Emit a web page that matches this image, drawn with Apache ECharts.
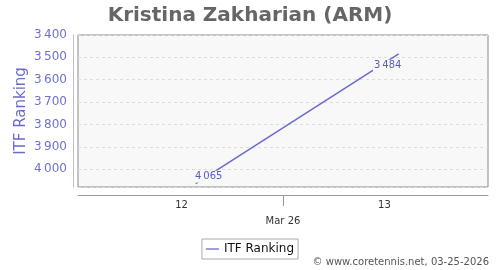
<!DOCTYPE html>
<html>
<head>
<meta charset="utf-8">
<script src="https://cdn.jsdelivr.net/npm/echarts@6/dist/echarts.min.js"></script>
<style>
  html, body { margin: 0; padding: 0; background: #fff; }
  #chart { width: 500px; height: 270px; }
</style>
</head>
<body>
<div id="chart"></div>
<script>
// week numbers (fractional) and ITF ranking
const weeks = [12.07, 13.07];
const rankings = [4065, 3484];
const weekTicks = [12, 13];
const monthTicks = [12.5];
const monthLabels = ['Mar 26'];

const lineColor = '#6a6acd';
const labelColor = '#5a5ac0';
const fmt = (v) => String(v).replace(/\B(?=(\d{3})+(?!\d))/g, '\u2009');

// label placement per point: first one sits above-right, second below-left
const labelOffsets = [[13, 4], [-11, 23]];

const chart = echarts.init(document.getElementById('chart'), null, { renderer: 'canvas' });

const option = {
  animation: false,
  title: {
    text: 'Kristina Zakharian (ARM)',
    left: 'center',
    top: 1,
    textStyle: { fontFamily: 'DejaVu Sans', fontSize: 20, fontWeight: 'bold', color: '#666' },
  },
  legend: {
    bottom: 11,
    left: 'center',
    data: ['ITF Ranking'],
    icon: 'path://M0,0 L20,0 L20,2 L0,2 Z',
    itemWidth: 13,
    itemHeight: 2,
    itemGap: 4,
    padding: [4, 4, 4, 4],
    borderColor: '#aaa',
    borderWidth: 1,
    backgroundColor: '#fff',
    textStyle: { fontFamily: 'DejaVu Sans', fontSize: 12, color: '#111' },
  },
  graphic: [
    {
      type: 'text',
      right: 11,
      bottom: 3,
      style: { text: '\u00a9 www.coretennis.net, 03-25-2026', fontFamily: 'DejaVu Sans', fontSize: 10, fill: '#555' },
    },
  ],
  grid: {
    left: 78, right: 12, top: 35, bottom: 83,
    show: true, backgroundColor: '#f8f8f8', borderColor: '#888', borderWidth: 1,
  },
  xAxis: [
    {
      type: 'value',
      min: 11.49,
      max: 13.51,
      offset: 8,
      axisLine: { show: true, lineStyle: { color: '#999' } },
      axisTick: { show: true, customValues: monthTicks, length: 11, lineStyle: { color: '#999' } },
      axisLabel: {
        customValues: weekTicks, margin: 5,
        fontFamily: 'DejaVu Sans', fontSize: 10, color: '#333',
      },
      splitLine: { show: false },
    },
    {
      type: 'value',
      position: 'bottom',
      min: 11.49,
      max: 13.51,
      offset: 8,
      axisLine: { show: false },
      axisTick: { show: false },
      axisLabel: {
        customValues: monthTicks, margin: 21,
        formatter: (v) => monthLabels[monthTicks.indexOf(v)] || '',
        fontFamily: 'DejaVu Sans', fontSize: 10, color: '#333',
      },
      splitLine: { show: false },
    },
  ],
  yAxis: {
    type: 'value',
    inverse: true,
    min: 3400,
    max: 4080,
    interval: 100,
    offset: 5,
    name: 'ITF Ranking',
    nameLocation: 'middle',
    nameGap: 44,
    nameMoveOverlap: false,
    nameTextStyle: { fontFamily: 'DejaVu Sans', fontSize: 15, color: '#6b6bcc' },
    axisLine: { show: true, lineStyle: { color: '#b8b8e0' } },
    axisTick: { show: false },
    axisLabel: {
      fontFamily: 'DejaVu Sans', fontSize: 12, color: '#7070cc', margin: 6,
      formatter: (v) => (v % 100 === 0 && v <= 4000 ? fmt(v) : ''),
    },
    splitLine: { show: true, lineStyle: { color: '#ddd', type: [3, 3] } },
  },
  series: [
    {
      name: 'ITF Ranking',
      type: 'line',
      xAxisIndex: 0,
      showSymbol: true,
      symbol: 'circle',
      symbolSize: 0,
      lineStyle: { color: lineColor, width: 1.5 },
      itemStyle: { color: lineColor },
      data: weeks.map((w, i) => ({
        value: [w, rankings[i]],
        label: {
          show: true,
          position: 'top',
          offset: labelOffsets[i],
          formatter: fmt(rankings[i]),
          fontFamily: 'DejaVu Sans', fontSize: 10, color: labelColor,
          backgroundColor: '#f8f8f8', padding: [1, 1, 1, 1],
        },
      })),
      z: 3,
    },
  ],
};

chart.setOption(option);
</script>
</body>
</html>
